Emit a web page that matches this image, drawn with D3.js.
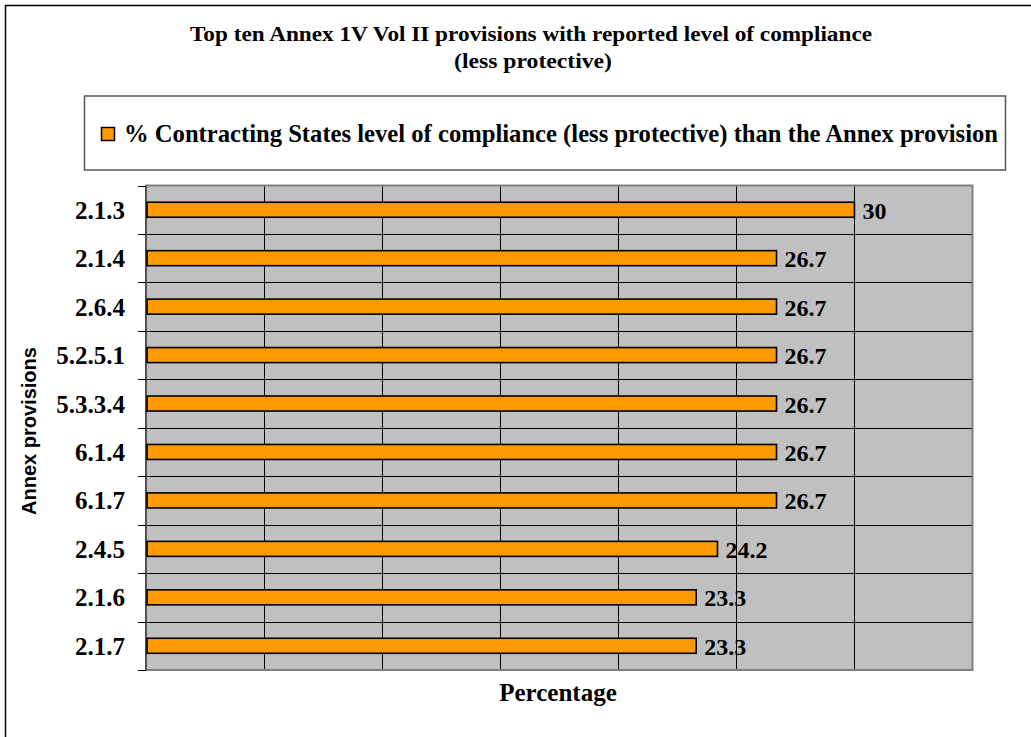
<!DOCTYPE html>
<html>
<head>
<meta charset="utf-8">
<script src="https://cdn.jsdelivr.net/npm/d3@7"></script>
<style>
  html, body { margin: 0; padding: 0; background: #fff; }
  svg { display: block; }
</style>
</head>
<body>
<script>
const categories = ["2.1.3", "2.1.4", "2.6.4", "5.2.5.1", "5.3.3.4", "6.1.4", "6.1.7", "2.4.5", "2.1.6", "2.1.7"];
const values = [30, 26.7, 26.7, 26.7, 26.7, 26.7, 26.7, 24.2, 23.3, 23.3];
const xTicks = [0, 5, 10, 15, 20, 25, 30, 35];
const titleLines = ["Top ten Annex 1V Vol II provisions with reported level of compliance", "(less protective)"];
const legendLabel = "% Contracting States level of compliance (less protective) than the  Annex provision";
const xTitle = "Percentage";
const yTitle = "Annex provisions";

const W = 1031, H = 737;
const serif = "'Liberation Serif', 'Times New Roman', serif";
const sans = "'Liberation Sans', Arial, sans-serif";

const svg = d3.select("body").append("svg").attr("width", W).attr("height", H);

// outer frame
svg.append("rect").attr("x", 5.5).attr("y", 5.5).attr("width", 1040).attr("height", 760)
  .attr("fill", "#fff").attr("stroke", "#000").attr("stroke-width", 1.5);

// title
const titleY = [41, 68], titleCx = [531, 533], titleLen = [682, 158];
titleLines.forEach((t, i) => {
  svg.append("text").attr("x", titleCx[i]).attr("y", titleY[i]).attr("text-anchor", "middle")
    .attr("font-family", serif).attr("font-weight", "bold").attr("font-size", 21)
    .attr("textLength", titleLen[i]).attr("lengthAdjust", "spacingAndGlyphs")
    .text(t);
});

// legend
svg.append("rect").attr("x", 84.5).attr("y", 96).attr("width", 921).attr("height", 74)
  .attr("fill", "#fff").attr("stroke", "#555").attr("stroke-width", 1.5);
svg.append("rect").attr("x", 101.5).attr("y", 127.5).attr("width", 13).attr("height", 13)
  .attr("fill", "#FF9900").attr("stroke", "#000").attr("stroke-width", 1.5);
svg.append("text").attr("x", 124).attr("y", 142)
  .attr("font-family", serif).attr("font-weight", "bold").attr("font-size", 25)
  .attr("textLength", 874).attr("lengthAdjust", "spacingAndGlyphs")
  .text(legendLabel);

// plot area
const P = { left: 146, right: 972.5, top: 185.5, bottom: 670 };
const x = d3.scaleLinear().domain([0, 35]).range([P.left, P.right]);
const y = d3.scaleBand().domain(categories).range([P.top, P.bottom]).padding(0);

svg.append("rect").attr("x", P.left).attr("y", P.top)
  .attr("width", P.right - P.left).attr("height", P.bottom - P.top)
  .attr("fill", "#C0C0C0");

// vertical gridlines
svg.append("g").selectAll("line").data(xTicks.slice(1, -1)).join("line")
  .attr("x1", d => Math.round(x(d)) + 0.5).attr("x2", d => Math.round(x(d)) + 0.5)
  .attr("y1", P.top).attr("y2", P.bottom)
  .attr("stroke", "#000").attr("stroke-width", 1);

// horizontal gridlines at category boundaries
const bounds = categories.slice(1).map(c => y(c));
svg.append("g").selectAll("line").data(bounds).join("line")
  .attr("x1", P.left).attr("x2", P.right)
  .attr("y1", d => Math.round(d) + 0.5).attr("y2", d => Math.round(d) + 0.5)
  .attr("stroke", "#000").attr("stroke-width", 1);

// plot border
svg.append("rect").attr("x", P.left).attr("y", P.top)
  .attr("width", P.right - P.left).attr("height", P.bottom - P.top)
  .attr("fill", "none").attr("stroke", "#808080").attr("stroke-width", 2);

// y axis with ticks at category boundaries
const allBounds = categories.map(c => y(c)).concat([P.bottom]);
svg.append("line").attr("x1", P.left).attr("x2", P.left).attr("y1", P.top).attr("y2", P.bottom)
  .attr("stroke", "#444").attr("stroke-width", 1.5);
svg.append("g").selectAll("line").data(allBounds).join("line")
  .attr("x1", P.left - 8).attr("x2", P.left)
  .attr("y1", d => Math.round(d) + 0.5).attr("y2", d => Math.round(d) + 0.5)
  .attr("stroke", "#000").attr("stroke-width", 1);

// bars
const barH = y.bandwidth() * 0.31;
svg.append("g").selectAll("rect").data(values).join("rect")
  .attr("x", P.left + 1)
  .attr("y", (d, i) => y(categories[i]) + (y.bandwidth() - barH) / 2)
  .attr("width", d => x(d) - P.left - 1)
  .attr("height", barH)
  .attr("fill", "#FF9900").attr("stroke", "#000").attr("stroke-width", 1.6);

// value labels
svg.append("g").selectAll("text").data(values).join("text")
  .attr("x", d => x(d) + 8)
  .attr("y", (d, i) => y(categories[i]) + y.bandwidth() / 2 + 9)
  .attr("font-family", serif).attr("font-weight", "bold").attr("font-size", 24)
  .text(d => d);

// category labels
svg.append("g").selectAll("text").data(categories).join("text")
  .attr("x", 125)
  .attr("y", d => y(d) + y.bandwidth() / 2 + 9)
  .attr("text-anchor", "end")
  .attr("font-family", serif).attr("font-weight", "bold").attr("font-size", 25)
  .text(d => d);

// axis titles
svg.append("text").attr("x", 558).attr("y", 701).attr("text-anchor", "middle")
  .attr("font-family", serif).attr("font-weight", "bold").attr("font-size", 25)
  .text(xTitle);
svg.append("text").attr("transform", "translate(36,431) rotate(-90)").attr("text-anchor", "middle")
  .attr("font-family", sans).attr("font-weight", "bold").attr("font-size", 20)
  .text(yTitle);
</script>
</body>
</html>
